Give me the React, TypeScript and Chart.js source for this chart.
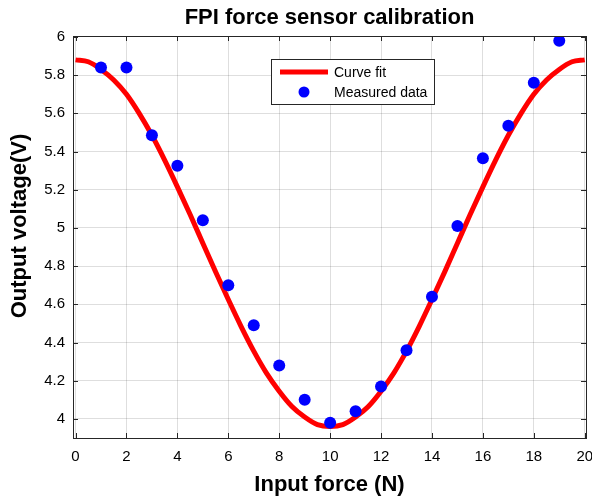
import React, { useEffect, useRef } from "react";
import { Chart, registerables } from "chart.js";
Chart.register(...registerables);

const chartTitle = "FPI force sensor calibration";
const xAxisTitle = "Input force (N)";
const yAxisTitle = "Output voltage(V)";
const fitLabel = "Curve fit";
const measuredLabel = "Measured data";

const measuredX = [1, 2, 3, 4, 5, 6, 7, 8, 9, 10, 11, 12, 13, 14, 15, 16, 17, 18, 19];
const measuredY = [5.84, 5.84, 5.485, 5.325, 5.04, 4.70, 4.49, 4.28, 4.10, 3.98, 4.04, 4.17, 4.36, 4.64, 5.01, 5.365, 5.535, 5.76, 5.98];

const fitX = [0, 0.5, 1, 1.5, 2, 2.5, 3, 3.5, 4, 4.5, 5, 5.5, 6, 6.5, 7, 7.5, 8, 8.5, 9, 9.5, 10,
  10.5, 11, 11.5, 12, 12.5, 13, 13.5, 14, 14.5, 15, 15.5, 16, 16.5, 17, 17.5, 18, 18.5, 19, 19.5, 20];
const fitY = [5.88, 5.87, 5.83, 5.775, 5.70, 5.60, 5.485, 5.355, 5.215, 5.07, 4.92, 4.77, 4.625, 4.485, 4.355, 4.24, 4.145, 4.065, 4.01, 3.97, 3.96,
  3.97, 4.01, 4.065, 4.145, 4.24, 4.355, 4.485, 4.625, 4.77, 4.92, 5.07, 5.215, 5.355, 5.485, 5.60, 5.70, 5.775, 5.83, 5.87, 5.88];

const xTicks = [0, 2, 4, 6, 8, 10, 12, 14, 16, 18, 20];
const yTicks = [4, 4.2, 4.4, 4.6, 4.8, 5, 5.2, 5.4, 5.6, 5.8, 6];

const FONT = "'Liberation Sans', Arial, Helvetica, sans-serif";
const AXIS_COLOR = "#262626";

const decorPlugin = {
  id: "decor",
  afterDraw(chart: any) {
    const ctx = chart.ctx;
    const a = chart.chartArea;
    const xs = chart.scales.x;
    const ys = chart.scales.y;
    ctx.save();
    // box
    ctx.strokeStyle = AXIS_COLOR;
    ctx.lineWidth = 1;
    ctx.strokeRect(Math.round(a.left) + 0.5, Math.round(a.top) + 0.5, Math.round(a.right - a.left), Math.round(a.bottom - a.top));
    // inner ticks
    const tl = 5;
    ctx.beginPath();
    for (const v of xTicks) {
      const px = Math.round(xs.getPixelForValue(v)) + 0.5;
      ctx.moveTo(px, a.bottom);
      ctx.lineTo(px, a.bottom - tl);
      ctx.moveTo(px, a.top);
      ctx.lineTo(px, a.top + tl);
    }
    for (const v of yTicks) {
      const py = Math.round(ys.getPixelForValue(v)) + 0.5;
      ctx.moveTo(a.left, py);
      ctx.lineTo(a.left + tl, py);
      ctx.moveTo(a.right, py);
      ctx.lineTo(a.right - tl, py);
    }
    ctx.stroke();

    // titles
    ctx.fillStyle = "#000";
    ctx.textAlign = "center";
    ctx.textBaseline = "middle";
    const cx = (a.left + a.right) / 2;
    ctx.font = `bold 22px ${FONT}`;
    ctx.fillText(chartTitle, cx, 18);
    ctx.font = `bold 22px ${FONT}`;
    ctx.fillText(xAxisTitle, cx, 485);
    ctx.save();
    ctx.translate(20, 226);
    ctx.rotate(-Math.PI / 2);
    ctx.fillText(yAxisTitle, 0, 0);
    ctx.restore();

    // legend
    const lx = 271, ly = 59, lw = 163, lh = 45;
    ctx.fillStyle = "#fff";
    ctx.fillRect(lx, ly, lw, lh);
    ctx.strokeStyle = AXIS_COLOR;
    ctx.lineWidth = 1;
    ctx.strokeRect(lx + 0.5, ly + 0.5, lw, lh);
    ctx.strokeStyle = "#ff0000";
    ctx.lineWidth = 5;
    ctx.beginPath();
    ctx.moveTo(280, 72);
    ctx.lineTo(328, 72);
    ctx.stroke();
    ctx.fillStyle = "#0000ff";
    ctx.beginPath();
    ctx.arc(304, 92, 5.5, 0, Math.PI * 2);
    ctx.fill();
    ctx.fillStyle = "#000";
    ctx.textAlign = "left";
    ctx.font = `14px ${FONT}`;
    ctx.fillText(fitLabel, 334, 73);
    ctx.fillText(measuredLabel, 334, 93);
    ctx.restore();
  },
};

export default function App() {
  const ref = useRef<HTMLCanvasElement | null>(null);
  useEffect(() => {
    if (!ref.current) return;
    const chart = new Chart(ref.current, {
      type: "scatter",
      data: {
        datasets: [
          {
            label: measuredLabel,
            data: measuredX.map((x, i) => ({ x, y: measuredY[i] })),
            backgroundColor: "#0000ff",
            borderColor: "#0000ff",
            pointRadius: 6,
            pointBorderWidth: 0,
            clip: 0,
          },
          {
            label: fitLabel,
            data: fitX.map((x, i) => ({ x, y: fitY[i] })),
            showLine: true,
            borderColor: "#ff0000",
            backgroundColor: "#ff0000",
            borderWidth: 5,
            pointRadius: 0,
            cubicInterpolationMode: "monotone",
            clip: 0,
          } as any,
        ],
      },
      options: {
        responsive: false,
        animation: false,
        layout: { padding: { top: 36, right: 4, left: 0, bottom: 0 } },
        plugins: {
          legend: { display: false },
          title: { display: false },
          tooltip: { enabled: false },
        },
        scales: {
          x: {
            type: "linear",
            min: -0.1,
            max: 20.05,
            afterBuildTicks: (s: any) => {
              s.ticks = xTicks.map((v) => ({ value: v }));
            },
            afterFit: (s: any) => {
              s.height = 61;
              s.paddingLeft = 0;
              s.paddingRight = 0;
            },
            grid: { color: "rgba(0,0,0,0.13)", drawTicks: false, lineWidth: 1 },
            border: { display: false },
            ticks: {
              padding: 10,
              color: "#000",
              font: { family: FONT, size: 15 },
              maxRotation: 0,
              autoSkip: false,
              callback: (v: any) => String(v),
            },
          },
          y: {
            type: "linear",
            min: 3.9,
            max: 6.005,
            afterBuildTicks: (s: any) => {
              s.ticks = yTicks.map((v) => ({ value: v }));
            },
            afterFit: (s: any) => {
              s.width = 73;
              s.paddingTop = 0;
              s.paddingBottom = 0;
            },
            grid: { color: "rgba(0,0,0,0.13)", drawTicks: false, lineWidth: 1 },
            border: { display: false },
            ticks: {
              padding: 8,
              color: "#000",
              font: { family: FONT, size: 15 },
              autoSkip: false,
              callback: (v: any) => String(Math.round(v * 10) / 10),
            },
          },
        },
      },
      plugins: [decorPlugin],
    });
    return () => chart.destroy();
  }, []);
  return (
    <div style={{ position: "fixed", left: 0, top: 0, width: 592, height: 499, background: "#fff" }}>
      <canvas ref={ref} width={592} height={499} style={{ width: 592, height: 499, display: "block" }} />
    </div>
  );
}
